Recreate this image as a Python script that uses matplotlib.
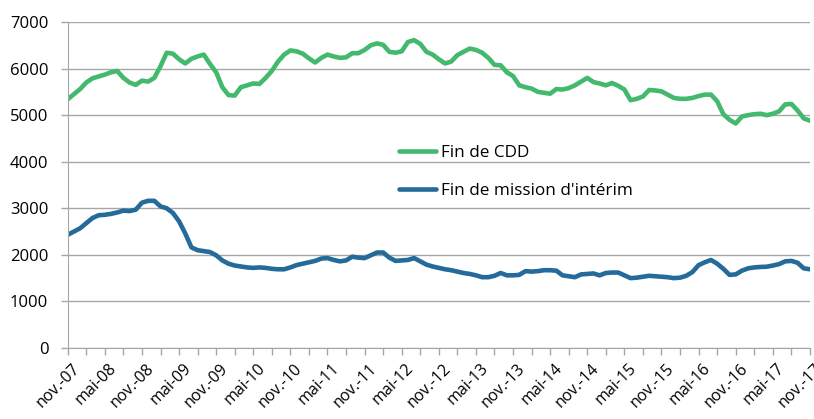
import matplotlib
matplotlib.use("Agg")
import matplotlib.pyplot as plt
import matplotlib.transforms as mtransforms
import numpy as np

plt.rcParams['font.family'] = ['Open Sans', 'DejaVu Sans']

# monthly values, nov. 2007 -> nov. 2017
fin_cdd = [
    5340, 5450, 5560, 5700, 5790, 5830, 5870, 5920, 5950, 5800, 5700, 5650,
    5740, 5720, 5800, 6050, 6340, 6320, 6200, 6110, 6210, 6260, 6300, 6100,
    5920, 5600, 5430, 5420, 5600, 5640, 5680, 5670, 5800, 5950, 6150, 6300,
    6390, 6370, 6320, 6220, 6130, 6230, 6300, 6260, 6230, 6240, 6330, 6330,
    6400, 6500, 6540, 6510, 6360, 6340, 6370, 6570, 6610, 6530, 6360, 6300,
    6200, 6110, 6150, 6290, 6360, 6430, 6400, 6340, 6230, 6080, 6070, 5920,
    5840, 5640, 5600, 5570, 5500, 5480, 5460, 5560, 5550, 5580, 5640, 5720,
    5800, 5710, 5680, 5640, 5690, 5630, 5550, 5320, 5350, 5400, 5540, 5530,
    5510, 5440, 5370, 5350, 5350, 5370, 5410, 5440, 5440, 5300, 5020, 4900,
    4820, 4970, 5000, 5020, 5030, 5000, 5030, 5080, 5230, 5240, 5100, 4930,
    4880,
]
fin_interim = [
    2430, 2500, 2570, 2680, 2790, 2850, 2860, 2880, 2910, 2950, 2940, 2970,
    3120, 3160, 3160, 3040, 3000, 2900, 2720, 2460, 2160, 2100, 2080, 2060,
    1990, 1880, 1810, 1770, 1750, 1730, 1720, 1730, 1720, 1700, 1690, 1690,
    1730, 1780, 1810, 1840, 1870, 1920, 1930, 1890, 1860, 1880, 1960, 1940,
    1930, 1990, 2050, 2050, 1940, 1870, 1880, 1890, 1930, 1860, 1790, 1750,
    1720, 1690, 1670, 1640, 1610, 1590, 1560, 1520, 1520, 1550, 1610, 1560,
    1560, 1570, 1650, 1640, 1650, 1670, 1670, 1660, 1560, 1540, 1520, 1580,
    1590, 1600, 1560, 1610, 1620, 1620, 1560, 1500, 1510, 1530, 1550, 1540,
    1530, 1520, 1500, 1510, 1550, 1630, 1780, 1840, 1890, 1810, 1700, 1570,
    1580, 1660, 1710, 1730, 1740, 1745, 1770, 1800, 1860, 1870, 1830, 1710,
    1690,
]
tick_labels = ['nov.-07', 'mai-08', 'nov.-08', 'mai-09', 'nov.-09', 'mai-10',
               'nov.-10', 'mai-11', 'nov.-11', 'mai-12', 'nov.-12', 'mai-13',
               'nov.-13', 'mai-14', 'nov.-14', 'mai-15', 'nov.-15', 'mai-16',
               'nov.-16', 'mai-17', 'nov.-17']

months = np.arange(len(fin_cdd))
grey = '#a6a6a6'

fig = plt.figure(figsize=(8.14, 4.19), dpi=100)
ax = fig.add_axes([0.0832, 0.1695, 0.9118, 0.778])

ax.plot(months, fin_cdd, color='#43b96e', lw=3.3, label='Fin de CDD',
        solid_capstyle='round', solid_joinstyle='round')
ax.plot(months, fin_interim, color='#246a9a', lw=3.3, label="Fin de mission d'intérim",
        solid_capstyle='round', solid_joinstyle='round')

ax.set_xlim(0, 120)
ax.set_ylim(0, 7000)
ax.set_yticks(range(0, 7001, 1000))
ax.yaxis.grid(True, color=grey, lw=1.0)
ax.set_axisbelow(True)

ax.set_xticks(np.arange(0, 121, 6))
ax.set_xticks(np.arange(0, 121, 3), minor=True)
ax.set_xticklabels(tick_labels, rotation=45, ha='right', va='top',
                   rotation_mode='anchor', fontsize=11.5)
ax.tick_params(axis='x', which='both', length=5, color=grey, width=1, pad=4)
ax.tick_params(axis='y', length=5, color=grey, width=1, pad=9, labelsize=12)

# nudge the rotated labels a little to the right, like in the original
shift = mtransforms.ScaledTranslation(4 / 100, 0, fig.dpi_scale_trans)
for lab in ax.get_xticklabels():
    lab.set_transform(lab.get_transform() + shift)

for s in ['top', 'right']:
    ax.spines[s].set_visible(False)
ax.spines['left'].set_color(grey)
ax.spines['bottom'].set_color(grey)

ax.legend(loc='upper left', bbox_to_anchor=(0.471, 0.690), bbox_transform=fig.transFigure,
          frameon=False, fontsize=12.3, handlelength=2.2, handletextpad=0.3,
          labelspacing=1.3)

fig.savefig('out.png', dpi=100)
